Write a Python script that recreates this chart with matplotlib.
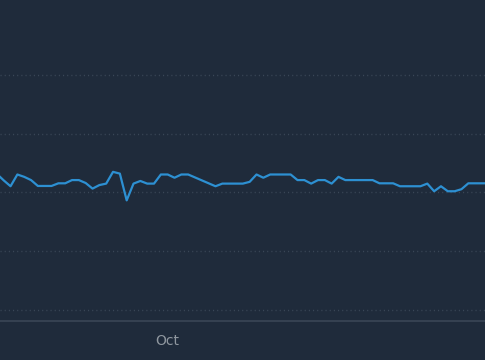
import pandas as pd
import matplotlib.pyplot as plt
import matplotlib.dates as mdates

# Valores diarios
start_date = "2023-09-06"
values = [46.3, 44.1, 42.1, 46.1, 45.3, 44.2, 42.2, 42.2, 42.2, 43.1,
          43.1, 44.2, 44.2, 43.2, 41.3, 42.5, 43.0, 47.0, 46.4, 37.3,
          43.0, 43.9, 43.0, 43.0, 46.1, 46.1, 45.0, 46.1, 46.1, 45.1,
          44.1, 43.1, 42.1, 43.0, 43.0, 43.0, 43.0, 43.6, 46.1, 45.0,
          46.1, 46.1, 46.1, 46.1, 44.2, 44.2, 43.0, 44.2, 44.2, 43.0,
          45.3, 44.2, 44.2, 44.2, 44.2, 44.2, 43.1, 43.1, 43.1, 42.1,
          42.1, 42.1, 42.1, 43.0, 40.4, 42.1, 40.4, 40.4, 41.1, 43.1,
          43.1, 43.1, 43.1]
y_ticks = [0, 20, 40, 60, 80]
label_months = [10]

dates = pd.date_range(start_date, periods=len(values), freq="D")

bg = "#1f2b3b"
fig = plt.figure(figsize=(4.851, 3.601), dpi=100, facecolor=bg)
ax = fig.add_axes([0, 39 / 360, 1, 321 / 360], facecolor=bg)

ax.plot(dates, values, color="#2d90d2", linewidth=1.6, solid_joinstyle="round")

ax.set_xlim(dates[0] + pd.Timedelta(hours=11), dates[-1] - pd.Timedelta(hours=13))
ax.set_ylim(-3.74, 105.5)
ax.set_yticks(y_ticks)
ax.yaxis.grid(True, color="#3a4757", linewidth=1, linestyle=(0, (0.8, 2.2)))
ax.tick_params(axis="y", length=0, labelleft=False)

ax.xaxis.set_major_locator(mdates.MonthLocator(bymonth=label_months))
ax.xaxis.set_major_formatter(mdates.DateFormatter("%b"))
ax.tick_params(axis="x", length=0, pad=9, labelsize=10, colors="#8f979f")

for side in ["top", "left", "right"]:
    ax.spines[side].set_visible(False)
ax.spines["bottom"].set_color("#3a4656")
ax.spines["bottom"].set_linewidth(1.2)

fig.savefig("out.png", dpi=100, facecolor=bg)
